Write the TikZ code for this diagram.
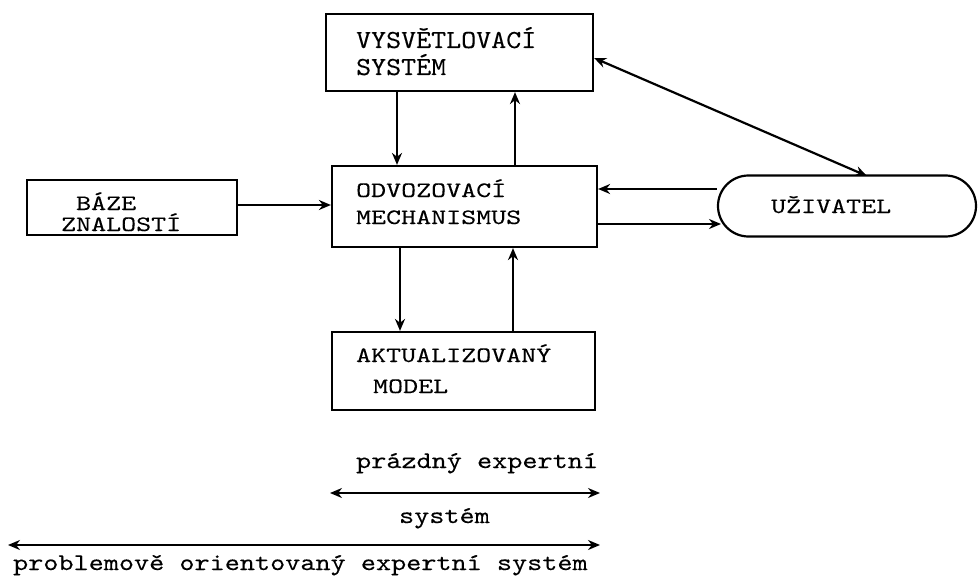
\documentclass[tikz,border=0pt]{standalone}
\usepackage{fontspec}
\setmainfont{Liberation Serif}
% typewriter faces, widened so that each character takes about 15pt
\newfontfamily\typew[FakeStretch=1.3,FakeBold=0.2]{lmmono10-regular.otf}
\newfontfamily\typewtall[FakeStretch=1.1,FakeBold=0.2]{lmmono10-regular.otf}
\newfontfamily\typewlow[FakeStretch=1.2,FakeBold=0.2]{lmmono10-regular.otf}
\usetikzlibrary{arrows.meta,shapes.misc}

\begin{document}
\begin{tikzpicture}[x=1pt,y=-1pt,
  line width=2.2pt,
  tip/.style={-{Stealth[length=12pt,width=10pt]}},
  tips/.style={{Stealth[length=12pt,width=10pt]}-{Stealth[length=12pt,width=10pt]}},
  box/.style={draw,rectangle,inner sep=0pt},
  term/.style={draw,rounded rectangle,inner sep=0pt},
  txt/.style={anchor=base west,inner sep=0pt,font=\typew\fontsize{22}{22}\selectfont},
  tall/.style={font=\typewtall\fontsize{26}{26}\selectfont},
  lower/.style={font=\typewlow\fontsize{24}{24}\selectfont}]

\useasboundingbox (0,0) rectangle (978,578);

% blocks
\node[box,minimum width=267pt,minimum height=77pt] (vys) at (459.5,52.5) {};
\node[box,minimum width=210pt,minimum height=55pt] (baze) at (132,207.5) {};
\node[box,minimum width=265pt,minimum height=81pt] (odv) at (464.5,206.5) {};
\node[box,minimum width=263pt,minimum height=78pt] (akt) at (463.5,371) {};
\node[term,minimum width=258pt,minimum height=61pt] (uz) at (847,206) {};

% labels
\node[txt,tall] (vys1) at (355,48) {VYSVĚTLOVACÍ};
\node[txt,tall] (vys2) at (355,75) {SYSTÉM};
\node[txt] (baze1) at (75,210) {BÁZE};
\node[txt] (baze2) at (60,231) {ZNALOSTÍ};
\node[txt] (odv1) at (355,197) {ODVOZOVACÍ};
\node[txt] (odv2) at (355,224) {MECHANISMUS};
\node[txt] (akt1) at (355,362) {AKTUALIZOVANÝ};
\node[txt] (akt2) at (372,393) {MODEL};
\node[txt] (uz1) at (770,213) {UŽIVATEL};

% connectors between blocks
\draw[tip] (vys.south -| 397,0) -- (odv.north -| 397,0);
\draw[tip] (odv.north -| 515,0) -- (vys.south -| 515,0);
\draw[tips] (vys.east |- 0,58) -- (867,176);
\draw[tip] (baze.east |- 0,205) -- (odv.west |- 0,205);
\draw[tip] (uz.west |- 0,189) -- (odv.east |- 0,189);
\draw[tip] (odv.east |- 0,224) -- (721,224);
\draw[tip] (odv.south -| 400,0) -- (akt.north -| 400,0);
\draw[tip] (akt.north -| 513,0) -- (odv.south -| 513,0);

% extent of the two systems
\coordinate (pa) at (330,493);
\coordinate (pb) at (600,493);
\coordinate (qa) at (8,545);
\coordinate (qb) at (600,545);
\draw[tips] (pa) -- (pb);
\draw[tips] (qa) -- (qb);
\node[txt,lower] (p1) at (355,468) {prázdný expertní};
\node[txt,lower] (p2) at (398,523) {systém};
\node[txt,lower] (q1) at (12,570) {problemově orientovaný expertní systém};
\end{tikzpicture}
\end{document}
